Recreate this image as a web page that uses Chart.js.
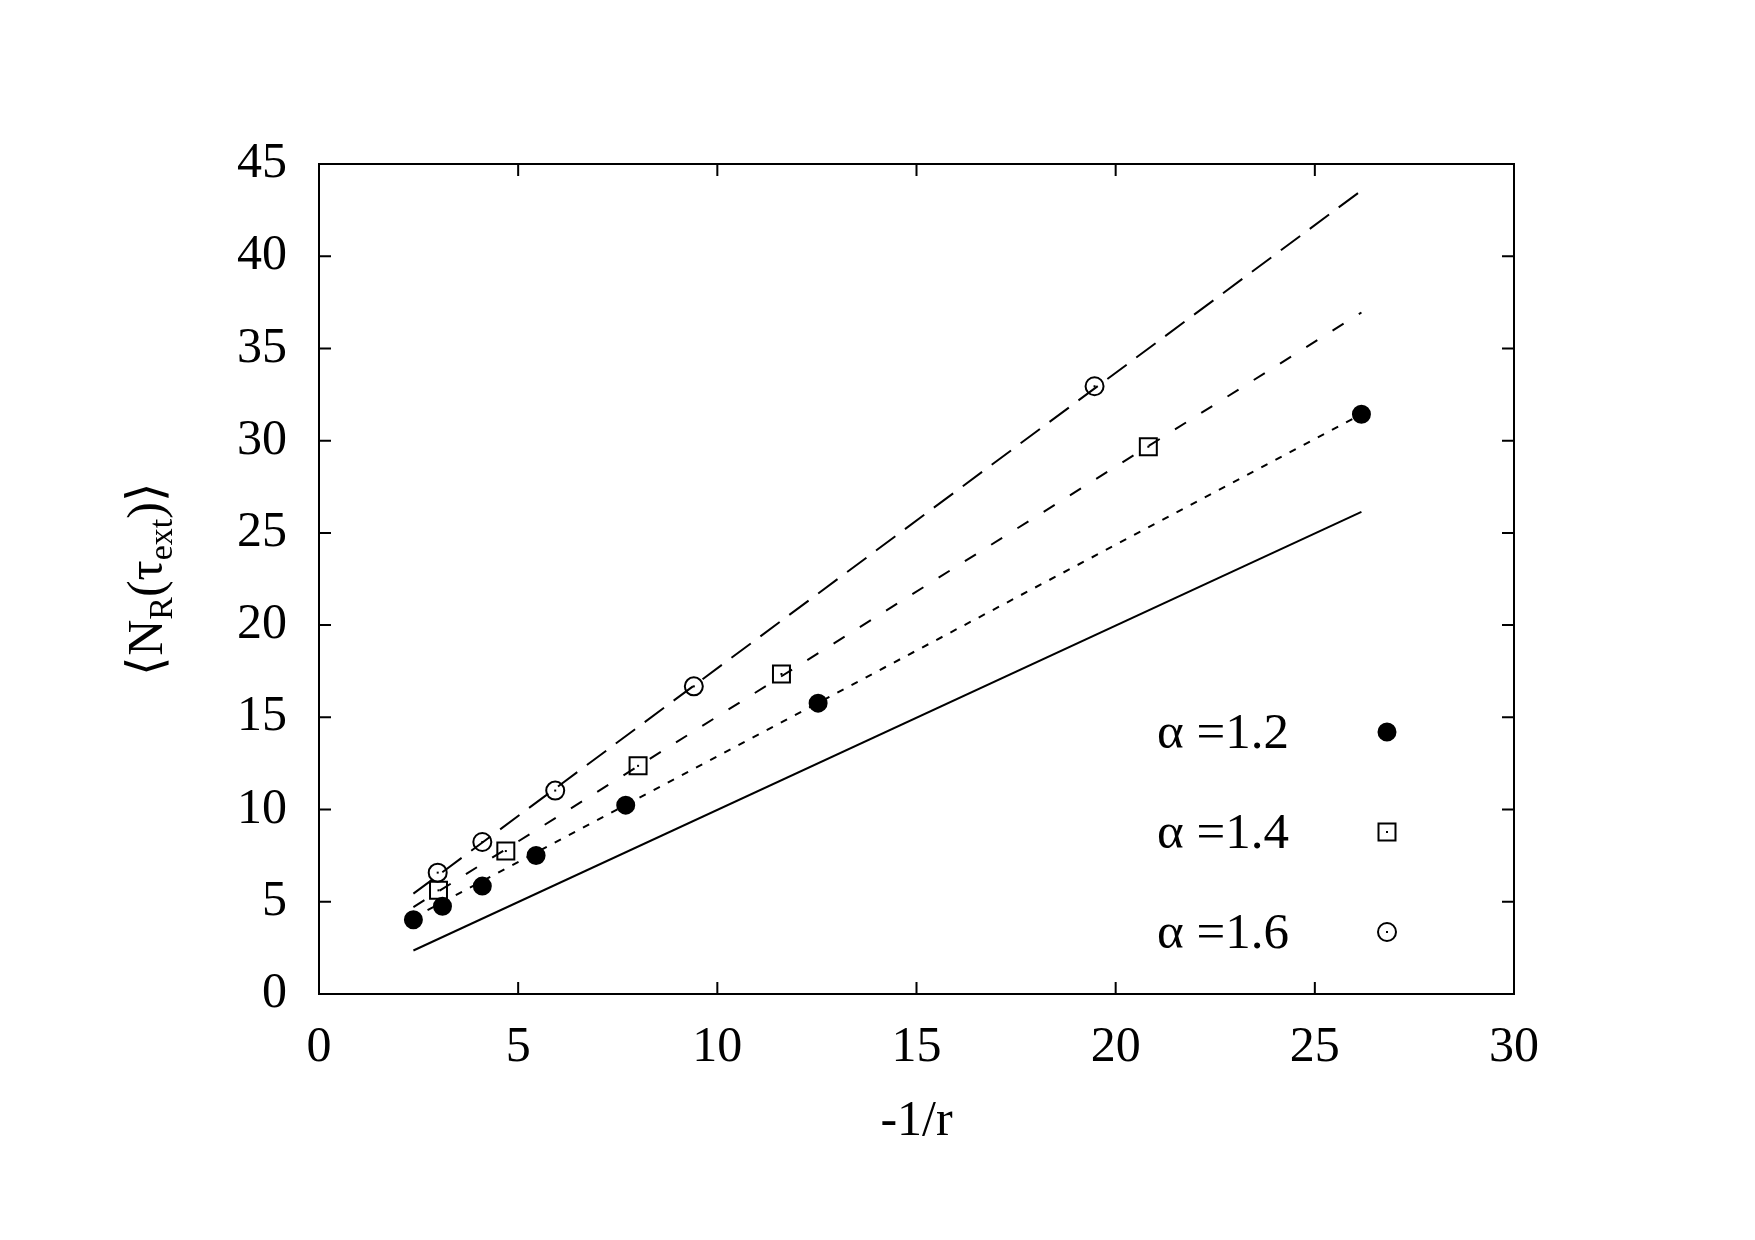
<!DOCTYPE html>
<html lang="en">
<head>
<meta charset="UTF-8">
<title>N_R(tau_ext) vs -1/r</title>
<script src="https://cdn.jsdelivr.net/npm/chart.js"></script>
<style>
  body { margin: 0; background: #fff; }
  canvas { display: block; }
</style>
</head>
<body>
<canvas id="plot" width="1755" height="1240"></canvas>
<script>
// measured points, one pair of arrays per alpha
const x12 = [2.37, 3.10, 4.10, 5.45, 7.70, 12.53, 26.17];
const y12 = [4.03, 4.76, 5.85, 7.51, 10.24, 15.77, 31.43];
const x14 = [3.00, 4.69, 8.01, 11.61, 20.82];
const y14 = [5.62, 7.75, 12.37, 17.35, 29.67];
const x16 = [2.98, 4.10, 5.93, 9.41, 19.47];
const y16 = [6.58, 8.24, 11.03, 16.68, 32.95];

// straight lines: endpoints only
const lineX = [2.37, 26.17];
const lineSolid = [2.36, 26.14];
const line12 = [4.14, 31.43];
const line14 = [4.71, 36.95];
const line16 = [5.44, 43.56];

const legendLabels = ['α =1.2', 'α =1.4', 'α =1.6'];
const xTicks = [0, 5, 10, 15, 20, 25, 30];
const yTicks = [0, 5, 10, 15, 20, 25, 30, 35, 40, 45];

const FONT = '"Liberation Serif", "Times New Roman", serif';
const SIZE = 50;

function pts(xs, ys) {
    return xs.map((x, i) => ({ x: x, y: ys[i] }));
}

function fitLine(ys, dash) {
    return {
        type: 'line',
        data: pts(lineX, ys),
        borderColor: '#000',
        borderWidth: 2,
        borderDash: dash,
        pointRadius: 0,
        tension: 0,
        order: 2
    };
}

function markers(xs, ys, label, style, radius, fill, dot) {
    return {
        type: 'scatter',
        label: label,
        data: pts(xs, ys),
        pointStyle: style,
        pointRadius: radius,
        pointBackgroundColor: fill,
        pointBorderColor: '#000',
        pointBorderWidth: 2,
        centreDot: dot,
        order: 1
    };
}

// small dot in the middle of the open markers
const centreDots = {
    id: 'centreDots',
    afterDatasetsDraw(chart) {
        const ctx = chart.ctx;
        ctx.save();
        ctx.fillStyle = '#000';
        chart.data.datasets.forEach((ds, i) => {
            if (!ds.centreDot) return;
            chart.getDatasetMeta(i).data.forEach(p => ctx.fillRect(p.x - 1, p.y - 1, 2, 2));
        });
        ctx.restore();
    }
};

function drawMarker(ctx, ds, x, y) {
    ctx.beginPath();
    if (ds.pointStyle === 'rect') {
        const h = ds.pointRadius * Math.SQRT1_2;
        ctx.rect(x - h, y - h, 2 * h, 2 * h);
    } else {
        ctx.arc(x, y, ds.pointRadius, 0, Math.PI * 2);
    }
    ctx.fillStyle = ds.pointBackgroundColor;
    ctx.fill();
    ctx.lineWidth = ds.pointBorderWidth;
    ctx.strokeStyle = '#000';
    ctx.stroke();
    if (ds.centreDot) {
        ctx.fillStyle = '#000';
        ctx.fillRect(x - 1, y - 1, 2, 2);
    }
}

// key inside the plot: text on the left, marker on the right
const keyBox = {
    id: 'keyBox',
    afterDraw(chart) {
        const ctx = chart.ctx;
        const sets = chart.data.datasets.filter(d => d.type === 'scatter');
        ctx.save();
        ctx.font = '51px ' + FONT;
        ctx.textAlign = 'left';
        ctx.textBaseline = 'alphabetic';
        sets.forEach((ds, k) => {
            const yb = 748 + k * 100;
            ctx.fillStyle = '#000';
            ctx.fillText(ds.label, 1157, yb);
            drawMarker(ctx, ds, 1387, yb - 16);
        });
        ctx.restore();
    }
};

// closed box with inward ticks on all four sides
const frame = {
    id: 'frame',
    afterDraw(chart) {
        const { ctx, chartArea: a, scales: { x, y } } = chart;
        const len = 12;
        ctx.save();
        ctx.strokeStyle = '#000';
        ctx.lineWidth = 2;
        ctx.strokeRect(a.left, a.top, a.right - a.left, a.bottom - a.top);
        ctx.beginPath();
        x.ticks.forEach(t => {
            const px = x.getPixelForValue(t.value);
            ctx.moveTo(px, a.bottom); ctx.lineTo(px, a.bottom - len);
            ctx.moveTo(px, a.top); ctx.lineTo(px, a.top + len);
        });
        y.ticks.forEach(t => {
            const py = y.getPixelForValue(t.value);
            ctx.moveTo(a.left, py); ctx.lineTo(a.left + len, py);
            ctx.moveTo(a.right, py); ctx.lineTo(a.right - len, py);
        });
        ctx.stroke();
        ctx.restore();
    }
};

// axis titles (the y one needs subscripts)
const titles = {
    id: 'titles',
    afterDraw(chart) {
        const ctx = chart.ctx;
        const a = chart.chartArea;
        ctx.save();
        ctx.fillStyle = '#000';
        ctx.textBaseline = 'alphabetic';
        ctx.font = SIZE + 'px ' + FONT;
        ctx.textAlign = 'center';
        ctx.fillText('-1/r', (a.left + a.right) / 2, 1135);

        const parts = [
            ['⟨', 0], ['N', 0], ['R', 1], ['(', 0], ['τ', 0], ['ext', 1], [')', 0], ['⟩', 0]
        ];
        const main = SIZE + 'px ' + FONT;
        const sub = Math.round(SIZE * 0.68) + 'px ' + FONT;
        let total = 0;
        parts.forEach(p => { ctx.font = p[1] ? sub : main; total += ctx.measureText(p[0]).width; });
        ctx.translate(162, 579);
        ctx.rotate(-Math.PI / 2);
        ctx.textAlign = 'left';
        let cx = -total / 2;
        parts.forEach(p => {
            ctx.font = p[1] ? sub : main;
            ctx.fillText(p[0], cx, p[1] ? 10 : 0);
            cx += ctx.measureText(p[0]).width;
        });
        ctx.restore();
    }
};

const ctx = document.getElementById('plot').getContext('2d');
const chart = new Chart(ctx, {
    data: {
        datasets: [
            fitLine(lineSolid, []),
            fitLine(line12, [7, 9]),
            fitLine(line14, [13, 18]),
            fitLine(line16, [24, 12]),
            markers(x12, y12, legendLabels[0], 'circle', 8.5, '#000', false),
            markers(x14, y14, legendLabels[1], 'rect', 12, 'rgba(0,0,0,0)', true),
            markers(x16, y16, legendLabels[2], 'circle', 9, 'rgba(0,0,0,0)', true)
        ]
    },
    options: {
        responsive: false,
        animation: false,
        layout: { padding: { left: 0, top: 164, right: 241, bottom: 0 } },
        plugins: {
            legend: { display: false },
            tooltip: { enabled: false }
        },
        scales: {
            x: {
                type: 'linear',
                min: 0,
                max: 30,
                afterBuildTicks: s => { s.ticks = xTicks.map(v => ({ value: v })); },
                afterFit: s => { s.height = 246; },
                grid: { display: false, drawTicks: false },
                border: { display: false },
                ticks: {
                    padding: 24,
                    color: '#000',
                    maxRotation: 0,
                    autoSkip: false,
                    font: { family: FONT, size: SIZE }
                }
            },
            y: {
                type: 'linear',
                min: 0,
                max: 45,
                afterBuildTicks: s => { s.ticks = yTicks.map(v => ({ value: v })); },
                afterFit: s => { s.width = 319; },
                grid: { display: false, drawTicks: false },
                border: { display: false },
                ticks: {
                    padding: 32,
                    color: '#000',
                    autoSkip: false,
                    font: { family: FONT, size: SIZE }
                }
            }
        }
    },
    plugins: [centreDots, frame, keyBox, titles]
});
</script>
</body>
</html>
